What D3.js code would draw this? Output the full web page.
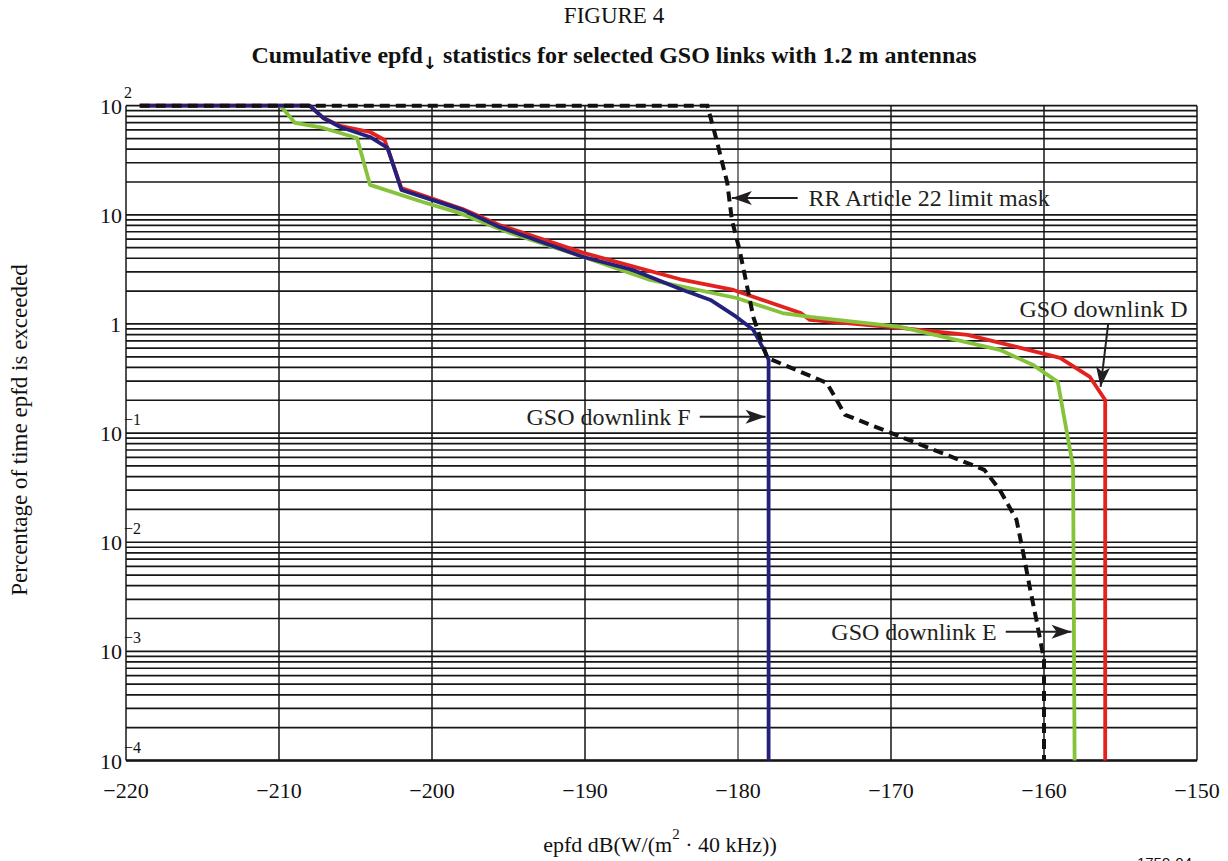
<!DOCTYPE html>
<html>
  <head>
    <title>Figure 4 - cumulative epfd statistics</title>
    <script src="https://unpkg.com/d3@7/dist/d3.min.js"></script>
    <style>
      body { margin: 0; background: #fff; }
      text { font-family: "Liberation Serif", "Times New Roman", serif; fill: #111; }
    </style>
  </head>
  <body>
    <svg width="1228" height="861" id="svg1"></svg>
    <script>
// x = epfd dB(W/(m2 . 40 kHz)), y = percentage of time exceeded
const xTicks = [-220, -210, -200, -190, -180, -170, -160, -150];
const yDecades = [-4, -3, -2, -1, 0, 1, 2];

const maskX = [-219.1, -182.0, -181.4, -180.7, -180.4, -179.9, -179.4, -179.0, -178.1, -174.2, -173.0, -163.9, -162.9, -161.8, -161.4, -160.9, -160.5, -160.0, -160.0];
const maskY = [100, 100, 48.5, 19.6, 8.98, 4.78, 2.19, 1.16, 0.49, 0.289, 0.147, 0.0461, 0.0303, 0.0161, 0.00855, 0.00368, 0.00195, 0.00084, 0.0001];

const linkDX = [-219.1, -208.0, -207.1, -206.0, -204.05, -203.1, -202.0, -198.0, -195.6, -190.1, -183.6, -180.3, -175.9, -175.3, -169.4, -165.0, -161.8, -158.95, -157.0, -156.0, -156.0];
const linkDY = [100, 100, 77, 65.2, 57.4, 48.5, 17.6, 11.3, 8.07, 4.48, 2.53, 2.05, 1.26, 1.09, 0.92, 0.794, 0.617, 0.489, 0.327, 0.201, 0.0001];

const linkEX = [-209.9, -208.95, -207.1, -204.9, -204.05, -200.6, -198.4, -194.9, -190.1, -185.75, -180.1, -177.1, -175.3, -169.4, -162.9, -160.7, -159.1, -158.1, -158.0];
const linkEY = [100, 69.5, 62.5, 50.6, 18.8, 13.1, 10.6, 6.83, 4.11, 2.53, 1.73, 1.26, 1.16, 0.94, 0.58, 0.42, 0.295, 0.0492, 0.0001];

const linkFX = [-219.1, -208.0, -207.1, -206.0, -204.05, -202.9, -202.0, -200.6, -198.0, -195.6, -190.1, -186.9, -183.6, -181.8, -180.1, -179.0, -178.2, -178.0, -178.0];
const linkFY = [100, 100, 77.1, 63.8, 51.7, 41.0, 16.9, 14.6, 11.1, 7.75, 4.11, 3.13, 2.05, 1.66, 1.16, 0.883, 0.544, 0.469, 0.0001];

// label text, text anchor point, arrow tail -> arrow tip (all in data units)
const notes = [
  {text: "RR Article 22 limit mask", anchor: "start", tx: -175.4, ty: 14.3, x1: -176.1, y1: 14.3, x2: -180.4, y2: 14.3},
  {text: "GSO downlink D", anchor: "start", tx: -161.6, ty: 1.36, x1: -155.8, y1: 1.02, x2: -156.3, y2: 0.265},
  {text: "GSO downlink F", anchor: "end", tx: -183.1, ty: 0.141, x1: -182.5, y1: 0.141, x2: -178.2, y2: 0.141},
  {text: "GSO downlink E", anchor: "start", tx: -173.9, ty: 0.00151, x1: -162.5, y1: 0.00151, x2: -158.2, y2: 0.00151}
];

const svg = d3.select('#svg1');
const x = d3.scaleLinear().domain([-220, -150]).range([126, 1197]);
const y = d3.scaleLog().domain([1e-4, 100]).range([760.5, 105.7]);

const zip = (xs, ys) => xs.map((v, i) => [v, ys[i]]);
const line = d3.line().x(d => x(d[0])).y(d => y(d[1]));

// grid
const grid = svg.append('g').attr('stroke', '#161616').attr('fill', 'none');
var minor = [];
yDecades.slice(0, -1).forEach(e => {
  for (var k = 1; k <= 9; k++) minor.push(k * Math.pow(10, e));
});
minor.push(100);
grid.selectAll('line.h')
  .data(minor)
  .join('line')
  .attr('class', 'h')
  .attr('x1', x(-220)).attr('x2', x(-150))
  .attr('y1', d => y(d)).attr('y2', d => y(d))
  .attr('stroke-width', 1.7);
grid.selectAll('line.v')
  .data(xTicks)
  .join('line')
  .attr('class', 'v')
  .attr('x1', d => x(d)).attr('x2', d => x(d))
  .attr('y1', y(100)).attr('y2', y(1e-4))
  .attr('stroke-width', d => d == -180 ? 1.1 : 1.5);
grid.append('line')
  .attr('x1', x(-220)).attr('x2', x(-150))
  .attr('y1', y(1e-4)).attr('y2', y(1e-4))
  .attr('stroke-width', 2.4);

// x tick labels
svg.append('g')
  .selectAll('text')
  .data(xTicks)
  .join('text')
  .attr('x', d => x(d))
  .attr('y', 798)
  .attr('text-anchor', 'middle')
  .style('font-size', '22px')
  .text(d => '\u2212' + Math.abs(d));

// y tick labels, 10 with superscript exponent
const yl = svg.append('g').selectAll('g').data(yDecades).join('g');
yl.append('text')
  .attr('x', d => d == 0 ? 121 : 122)
  .attr('y', d => y(Math.pow(10, d)) + 8)
  .attr('text-anchor', 'end')
  .style('font-size', '22px')
  .text(d => d == 0 ? '1' : '10');
yl.filter(d => d != 0 && d != 1)
  .append('text')
  .attr('x', 124)
  .attr('y', d => y(Math.pow(10, d)) - 8)
  .style('font-size', '16px')
  .text(d => d < 0 ? '\u2212' + Math.abs(d) : d);

// series
const series = [
  {pts: zip(linkDX, linkDY), color: '#e3211f'},
  {pts: zip(linkEX, linkEY), color: '#86c33a'},
  {pts: zip(linkFX, linkFY), color: '#24217c'}
];
svg.append('g')
  .attr('fill', 'none')
  .selectAll('path')
  .data(series)
  .join('path')
  .attr('d', d => line(d.pts))
  .attr('stroke', d => d.color)
  .attr('stroke-width', 3.8)
  .attr('stroke-linejoin', 'round');

svg.append('path')
  .attr('d', line(zip(maskX, maskY)))
  .attr('fill', 'none')
  .attr('stroke', '#111')
  .attr('stroke-width', 4)
  .attr('stroke-dasharray', '10,6');

// annotations with arrows
const ann = svg.append('g').selectAll('g').data(notes).join('g');
ann.append('text')
  .attr('x', d => x(d.tx))
  .attr('y', d => y(d.ty) + 8)
  .attr('text-anchor', d => d.anchor)
  .style('font-size', '24px')
  .style('fill', '#231f20')
  .text(d => d.text);
ann.append('line')
  .attr('x1', d => x(d.x1)).attr('y1', d => y(d.y1))
  .attr('x2', d => x(d.x2)).attr('y2', d => y(d.y2))
  .attr('stroke', '#231f20')
  .attr('stroke-width', 2);
ann.append('path')
  .attr('fill', '#231f20')
  .attr('transform', d => {
    const ax = x(d.x2), ay = y(d.y2);
    const ang = Math.atan2(ay - y(d.y1), ax - x(d.x1)) * 180 / Math.PI;
    return `translate(${ax},${ay}) rotate(${ang})`;
  })
  .attr('d', 'M0,0 L-20,-7 L-15,0 L-20,7 Z');

// titles
svg.append('text')
  .attr('x', 614).attr('y', 23)
  .attr('text-anchor', 'middle')
  .style('font-size', '23px')
  .text('FIGURE 4');
const t = svg.append('text')
  .attr('x', 614).attr('y', 63)
  .attr('text-anchor', 'middle')
  .style('font-size', '24px')
  .style('font-weight', 'bold');
t.append('tspan').text('Cumulative epfd');
t.append('tspan').attr('dy', 6)
  .style('font-family', '"DejaVu Sans"')
  .style('font-size', '17px')
  .style('fill', '#111')
  .text('\u2193\uFE0E');
t.append('tspan').attr('dy', -6).text(' statistics for selected GSO links with 1.2 m antennas');

svg.append('text')
  .attr('transform', 'translate(27,430) rotate(-90)')
  .attr('text-anchor', 'middle')
  .style('font-size', '23px')
  .text('Percentage of time epfd is exceeded');

const xl = svg.append('text')
  .attr('x', 660).attr('y', 852)
  .attr('text-anchor', 'middle')
  .style('font-size', '22px');
xl.append('tspan').text('epfd dB(W/(m');
xl.append('tspan').attr('dy', -13).style('font-size', '15px').text('2');
xl.append('tspan').attr('dy', 13).text(' \u00b7 40 kHz))');

svg.append('text')
  .attr('x', 1192).attr('y', 868)
  .attr('text-anchor', 'end')
  .style('font-family', '"Liberation Sans", Arial, sans-serif')
  .style('font-size', '15px')
  .text('1759-04');
    </script>
  </body>
</html>
